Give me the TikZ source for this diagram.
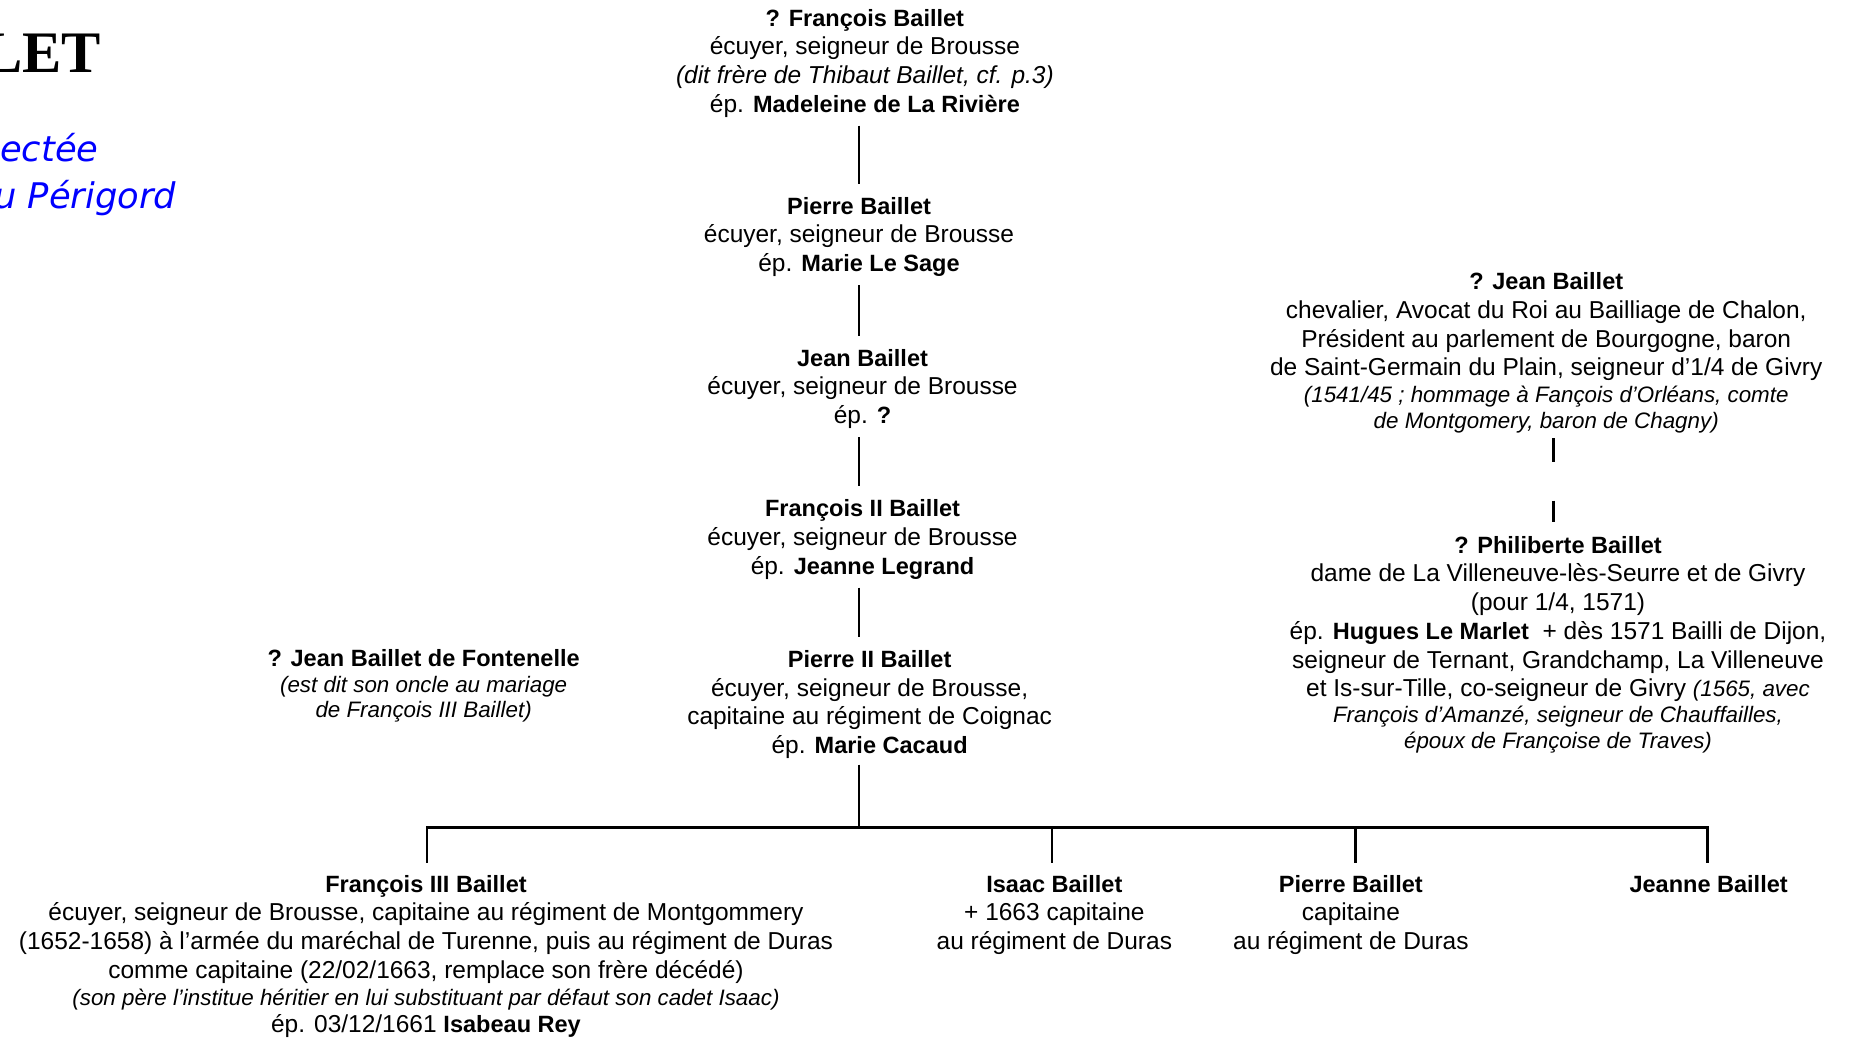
\documentclass[tikz,border=0pt]{standalone}
\usepackage{fontspec}
\setsansfont{Liberation Sans}
\newfontfamily\titlefont{Liberation Serif}
\newfontfamily\bluefont{DejaVu Sans}
\usetikzlibrary{positioning}
\newcommand\smallnote[1]{{\fontsize{19}{22}\selectfont\itshape #1}}
\newcommand\nm[1]{{\fontsize{20}{24.4}\selectfont\bfseries #1}}

\begin{document}
\begin{tikzpicture}[x=1pt,y=-1pt,
    person/.style={font=\sffamily\fontsize{20.8}{24.4}\selectfont, align=center,
        anchor=north, inner sep=0pt},
    heading/.style={anchor=base east, inner sep=0pt, text=blue,
        font=\bluefont\itshape\fontsize{30}{36}\selectfont},
    tie/.style={line width=2.2pt},
    gen/.style={tie, shorten <=7pt, shorten >=11pt}]

    \useasboundingbox (0,0) rectangle (1573,884);

    % heading, cut at the left edge
    \node[anchor=base east, inner sep=0pt,
        font=\titlefont\bfseries\fontsize{50}{50}\selectfont] (title) at (86,62) {LET};
    \node[heading] (sub1) at (84,137) {ectée};
    \node[heading] (sub2) at (150,177) {u Périgord};

    \node[person] (A) at (735,7.4) {\nm{? François Baillet}\\
        écuyer, seigneur de Brousse\\
        \textit{(dit frère de Thibaut Baillet, cf. p.3)}\\
        ép. \nm{Madeleine de La Rivière}};
    \node[person] (B) at (730,167.4) {\nm{Pierre Baillet}\\
        écuyer, seigneur de Brousse\\
        ép. \nm{Marie Le Sage}};
    \node[person] (C) at (733,296.4) {\nm{Jean Baillet}\\
        écuyer, seigneur de Brousse\\
        ép. \nm{?}};
    \node[person] (D) at (733,424.4) {\nm{François II Baillet}\\
        écuyer, seigneur de Brousse\\
        ép. \nm{Jeanne Legrand}};
    \node[person] (E) at (739,552.4) {\nm{Pierre II Baillet}\\
        écuyer, seigneur de Brousse,\\
        capitaine au régiment de Coignac\\
        ép. \nm{Marie Cacaud}};

    \node[person] (font) at (360,551.4) {\nm{? Jean Baillet de Fontenelle}\\[-2.4pt]
        \smallnote{(est dit son oncle au mariage}\\[-2.4pt]
        \smallnote{de François III Baillet)}};

    \node[person] (jeanR) at (1314,231.4) {\nm{? Jean Baillet}\\
        chevalier, Avocat du Roi au Bailliage de Chalon,\\
        Président au parlement de Bourgogne, baron\\
        de Saint-Germain du Plain, seigneur d’1/4 de Givry\\[-1.4pt]
        \smallnote{(1541/45 ; hommage à Fançois d’Orléans, comte}\\[-2.4pt]
        \smallnote{de Montgomery, baron de Chagny)}};
    \node[person] (phil) at (1324,455.4) {\nm{? Philiberte Baillet}\\
        dame de La Villeneuve-lès-Seurre et de Givry\\
        (pour 1/4, 1571)\\
        ép. \nm{Hugues Le Marlet}\ \ + dès 1571 Bailli de Dijon,\\
        seigneur de Ternant, Grandchamp, La Villeneuve\\
        et Is-sur-Tille, co-seigneur de Givry \smallnote{(1565, avec}\\[-2.4pt]
        \smallnote{François d’Amanzé, seigneur de Chauffailles,}\\[-2.4pt]
        \smallnote{époux de Françoise de Traves)}};

    \node[person] (f3) at (362,743.4) {\nm{François III Baillet}\\
        écuyer, seigneur de Brousse, capitaine au régiment de Montgommery\\
        (1652-1658) à l’armée du maréchal de Turenne, puis au régiment de Duras\\
        comme capitaine (22/02/1663, remplace son frère décédé)\\[-1.4pt]
        \smallnote{(son père l’institue héritier en lui substituant par défaut son cadet Isaac)}\\[-1.4pt]
        ép. 03/12/1661 \nm{Isabeau Rey}};
    \node[person] (isaac) at (896,743.4) {\nm{Isaac Baillet}\\
        + 1663 capitaine\\
        au régiment de Duras};
    \node[person] (pierre) at (1148,743.4) {\nm{Pierre Baillet}\\
        capitaine\\
        au régiment de Duras};
    \node[person] (jeanne) at (1452,743.4) {\nm{Jeanne Baillet}};

    \coordinate (spine) at (730,0);
    \coordinate (rspine) at (1320,0);
    \coordinate (fork) at (730,703);

    \foreach \up/\down in {A/B, B/C, C/D, D/E}
        \draw[gen] (\up.south -| spine) -- (\down.north -| spine);

    \draw[tie, shorten <=5pt] (E.south -| spine) -- (fork);
    \draw[tie, line cap=rect] (363,703) -- (1451,703);
    \foreach \kid/\x in {f3/363, isaac/894, pierre/1152, jeanne/1451}
        \draw[tie, shorten >=10pt] (\x,703) -- (\x,0 |- \kid.north);

    \draw[tie, shorten <=4pt, shorten >=11.4pt, dash pattern=on 20pt off 33pt]
        (jeanR.south -| rspine) -- (phil.north -| rspine);

\end{tikzpicture}
\end{document}
